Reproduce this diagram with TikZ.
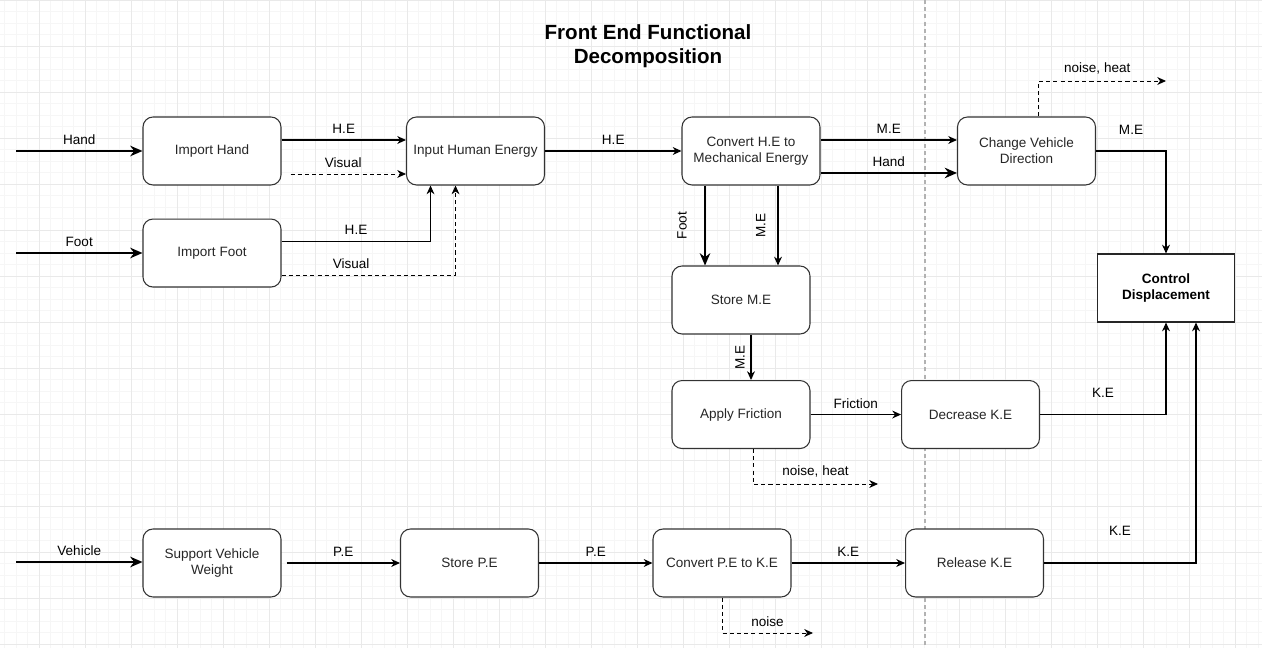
\documentclass[tikz,border=0pt]{standalone}
\usepackage{fontspec}
\setmainfont{Liberation Sans}
\usepackage{xcolor}
\usetikzlibrary{arrows.meta, positioning, calc}

\begin{document}
\begin{tikzpicture}[
            x=0.02cm, y=-0.02cm,
            font=\fontsize{7.7}{9.1}\selectfont,
            func/.style={rectangle, rounded corners=0.2cm, draw=black!80, line width=0.6pt, fill=white, minimum width=2.76cm, minimum height=1.36cm, align=center, text=black!85},
            goal/.style={rectangle, draw=black!85, line width=0.6pt, fill=white, minimum width=2.74cm, minimum height=1.36cm, align=center, font=\fontsize{7.7}{9.1}\selectfont\bfseries},
            flow/.style={-{Stealth[length=5pt, width=4.5pt]}, line width=0.6pt},
            thickflow/.style={-{Stealth[length=7pt, width=6pt]}, line width=1.1pt},
            loss/.style={-{Stealth[length=5pt, width=4.5pt]}, line width=0.5pt, dash pattern=on 2.3pt off 1.8pt},
            minorgrid/.style={draw=gray!7, line width=0.4pt},
            majorgrid/.style={draw=gray!17, line width=0.5pt}
        ]
        \useasboundingbox (0,0) rectangle (1262,648);
        \fill[white] (0,0) rectangle (1262,648);

        % Background grid
        \foreach \i in {0,...,109}
            \draw[minorgrid] ({4.8+11.5*\i},0) -- ({4.8+11.5*\i},648);
        \foreach \j in {0,...,56}
            \draw[minorgrid] (0,{11.5*\j}) -- (1262,{11.5*\j});
        \foreach \i in {0,...,27}
            \draw[majorgrid] ({39.3+46*\i},0) -- ({39.3+46*\i},648);
        \foreach \j in {0,...,14}
            \draw[majorgrid] (0,{46*\j}) -- (1262,{46*\j});
        \draw[gray!60, dash pattern=on 2.3pt off 1.8pt, line width=0.6pt] (925,0) -- (925,648);

        % Title
        \node[align=center, font=\fontsize{11.7}{13.6}\selectfont\bfseries] (title) at (648,46) {Front End Functional\\Decomposition};

        % Human energy path
        \node[func] (importHand) at (212,151) {Import Hand};
        \node[func, below=0.66cm of importHand] (importFoot) {Import Foot};
        \node[func, right=2.49cm of importHand] (inputEnergy) {Input Human Energy};
        \node[func, right=2.73cm of inputEnergy] (convertHE) {Convert H.E to\\Mechanical Energy};
        \node[func, right=2.73cm of convertHE] (changeDir) {Change Vehicle\\Direction};
        \node[goal] (control) at (1166,288) {Control\\Displacement};
        \node[func] (storeME) at (741,300) {Store M.E};
        \node[func, below=0.91cm of storeME] (applyFriction) {Apply Friction};
        \node[func, right=1.81cm of applyFriction] (decreaseKE) {Decrease K.E};

        % Vehicle weight path
        \node[func] (supportWeight) at (212,563) {Support Vehicle\\Weight};
        \node[func, right=2.37cm of supportWeight] (storePE) {Store P.E};
        \node[func, right=2.27cm of storePE] (convertPE) {Convert P.E to K.E};
        \node[func, right=2.27cm of convertPE] (releaseKE) {Release K.E};

        % Free ends
        \coordinate (handIn) at (16,151);
        \coordinate (footIn) at (16,253);
        \coordinate (vehicleIn) at (16,562);
        \coordinate (cdNoise) at (1166,81);
        \coordinate (afNoise) at (878,484);
        \coordinate (cpNoise) at (813,633);

        % Inputs
        \draw[thickflow] (handIn) -- node[above] {Hand} (importHand);
        \draw[thickflow] (footIn) -- node[above] {Foot} (importFoot.west |- footIn);
        \draw[thickflow] (vehicleIn) -- node[above] {Vehicle} (supportWeight.west |- vehicleIn);

        % Flows into human energy
        \draw[flow] ([yshift=0.22cm]importHand.east) -- node[above] {H.E} ([yshift=0.22cm]inputEnergy.west);
        \draw[loss] ([xshift=0.18cm, yshift=-0.46cm]importHand.east) -- node[above, xshift=-0.1cm] {Visual} ([yshift=-0.46cm]inputEnergy.west);
        \draw[flow] ([yshift=0.24cm]importFoot.east) -| node[above, pos=0.25] {H.E} ([xshift=-0.9cm]inputEnergy.south);
        \draw[loss] ([yshift=-0.44cm]importFoot.east) -| node[above, pos=0.2] {Visual} ([xshift=-0.4cm]inputEnergy.south);
        \draw[flow] (inputEnergy) -- node[above] {H.E} (convertHE);

        % Mechanical energy
        \draw[flow] ([yshift=0.22cm]convertHE.east) -- node[above] {M.E} ([yshift=0.22cm]changeDir.west);
        \draw[thickflow] ([yshift=-0.44cm]convertHE.east) -- node[above] {Hand} ([yshift=-0.44cm]changeDir.west);
        \draw[flow] (changeDir.east) -| node[above=6pt, pos=0.25] {M.E} (control.north);
        \draw[loss] ([xshift=0.24cm]changeDir.north) |- node[above, pos=0.75, xshift=-0.1cm] {noise, heat} (cdNoise);
        \draw[thickflow] ([xshift=-0.92cm]convertHE.south) -- node[midway, rotate=90, anchor=south, yshift=6.5pt] {Foot} ([xshift=-0.92cm]convertHE.south |- storeME.north);
        \draw[flow] ([xshift=0.54cm]convertHE.south) -- node[midway, rotate=90, anchor=south, yshift=3.5pt] {M.E} ([xshift=0.54cm]convertHE.south |- storeME.north);
        \draw[flow] ([xshift=0.2cm]storeME.south) -- node[midway, rotate=90, anchor=south] {M.E} ([xshift=0.2cm]applyFriction.north);

        % Friction
        \draw[flow] (applyFriction) -- node[above] {Friction} (decreaseKE);
        \draw[loss] ([xshift=0.24cm]applyFriction.south) |- node[above, pos=0.75] {noise, heat} (afNoise);
        \draw[flow] (decreaseKE.east) -| node[above=6pt, pos=0.25] {K.E} (control.south);

        % Potential energy
        \draw[flow] ([xshift=0.1cm]supportWeight.east) -- node[above] {P.E} (storePE);
        \draw[flow] (storePE) -- node[above] {P.E} (convertPE);
        \draw[flow] (convertPE) -- node[above] {K.E} (releaseKE);
        \draw[loss] (convertPE.south) |- node[above, pos=0.75] {noise} (cpNoise);
        \draw[flow] (releaseKE.east) -| node[above=12pt, pos=0.25] {K.E} ([xshift=0.6cm]control.south);

    \end{tikzpicture}
\end{document}
